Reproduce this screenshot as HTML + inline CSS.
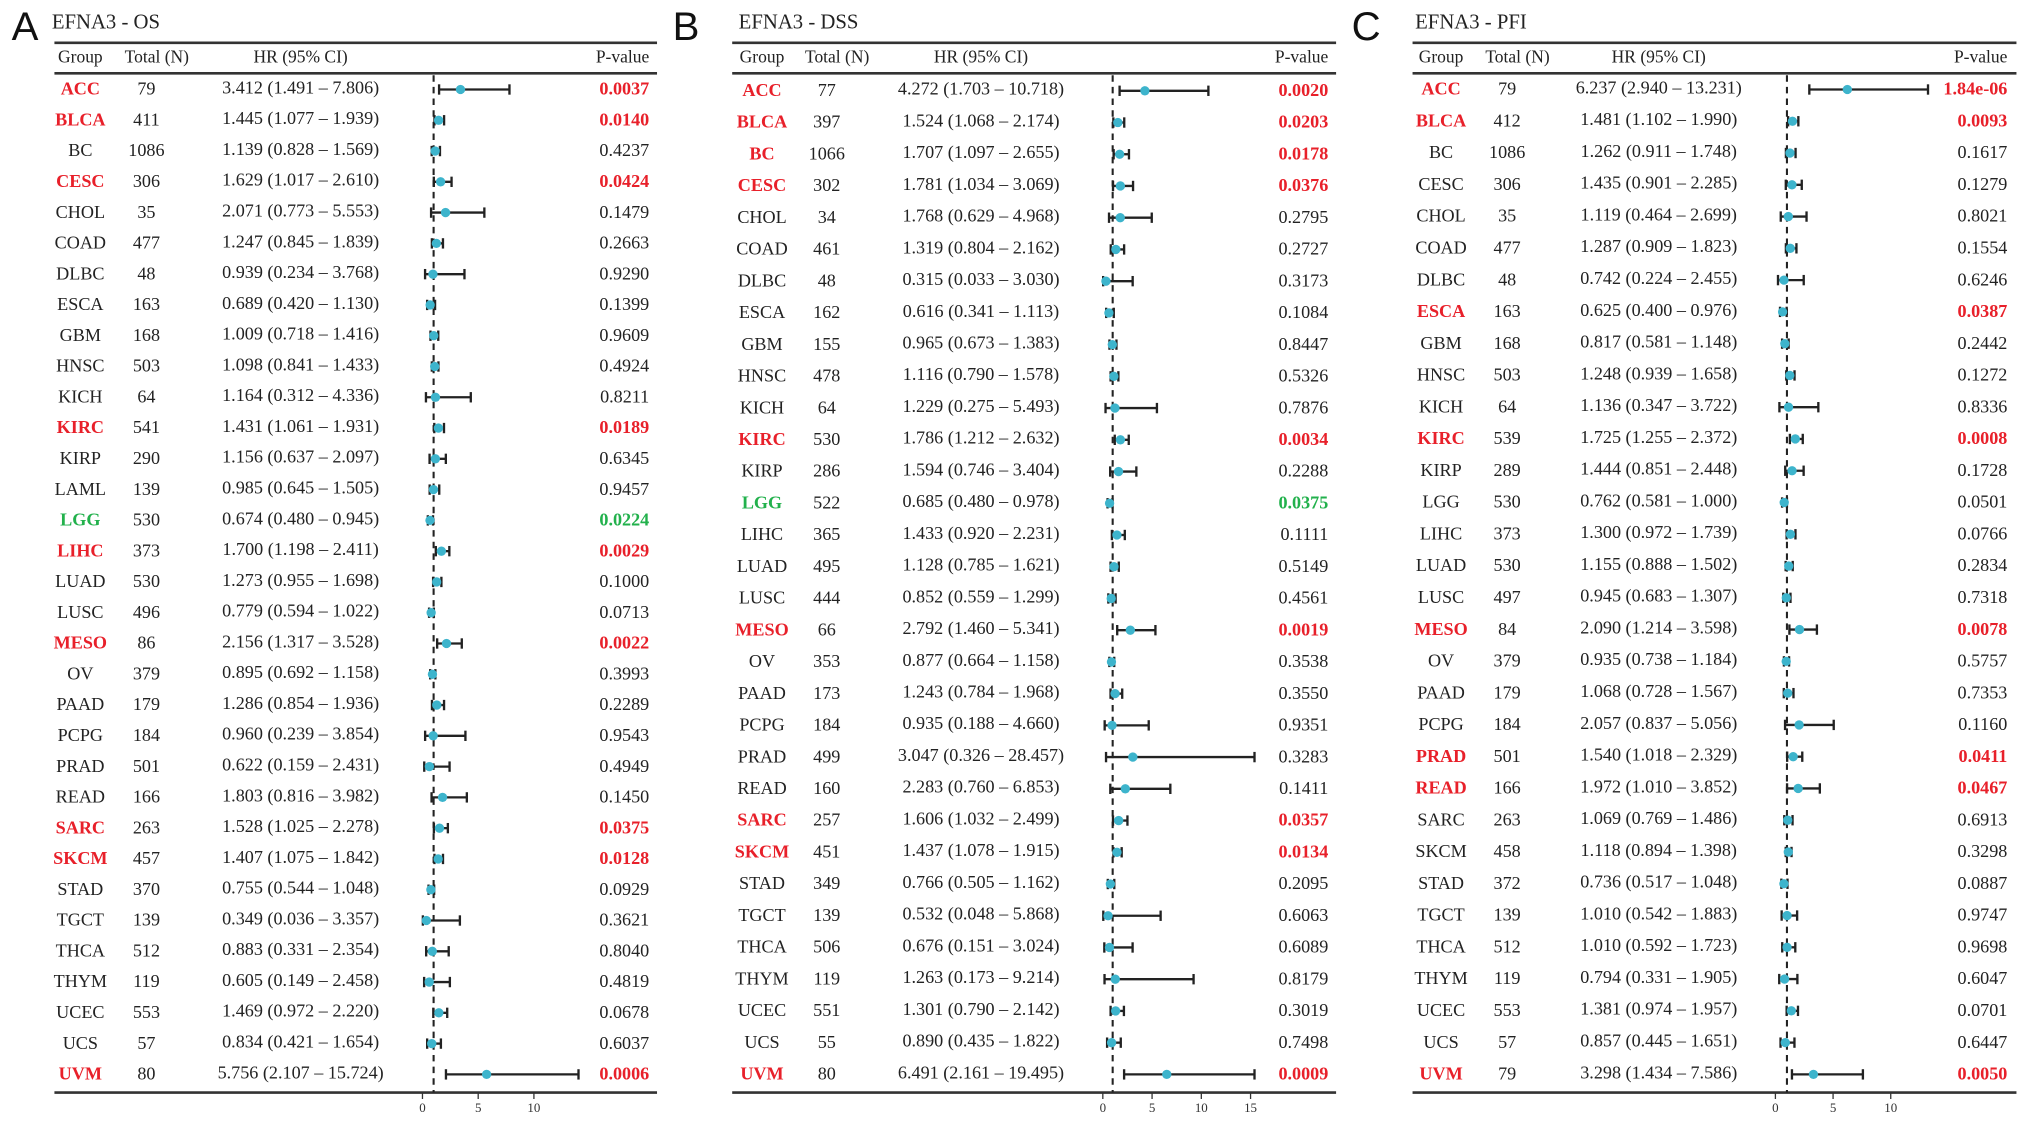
<!DOCTYPE html>
<html><head><meta charset="utf-8"><style>
html,body{margin:0;padding:0;background:#fff;}
svg{display:block;font-family:"Liberation Serif",serif;}
</style></head><body>
<svg id="fig" width="2032" height="1125" viewBox="0 0 1568 868" xmlns="http://www.w3.org/2000/svg"></svg>
<script>
// Panel A - OS
const groupsA=["ACC","BLCA","BC","CESC","CHOL","COAD","DLBC","ESCA","GBM","HNSC","KICH","KIRC","KIRP","LAML","LGG","LIHC","LUAD","LUSC","MESO","OV","PAAD","PCPG","PRAD","READ","SARC","SKCM","STAD","TGCT","THCA","THYM","UCEC","UCS","UVM"];
const nA=[79,411,1086,306,35,477,48,163,168,503,64,541,290,139,530,373,530,496,86,379,179,184,501,166,263,457,370,139,512,119,553,57,80];
const hrA=[3.412,1.445,1.139,1.629,2.071,1.247,0.939,0.689,1.009,1.098,1.164,1.431,1.156,0.985,0.674,1.700,1.273,0.779,2.156,0.895,1.286,0.960,0.622,1.803,1.528,1.407,0.755,0.349,0.883,0.605,1.469,0.834,5.756];
const loA=[1.491,1.077,0.828,1.017,0.773,0.845,0.234,0.420,0.718,0.841,0.312,1.061,0.637,0.645,0.480,1.198,0.955,0.594,1.317,0.692,0.854,0.239,0.159,0.816,1.025,1.075,0.544,0.036,0.331,0.149,0.972,0.421,2.107];
const hiA=[7.806,1.939,1.569,2.610,5.553,1.839,3.768,1.130,1.416,1.433,4.336,1.931,2.097,1.505,0.945,2.411,1.698,1.022,3.528,1.158,1.936,3.854,2.431,3.982,2.278,1.842,1.048,3.357,2.354,2.458,2.220,1.654,15.724];
const pA=["0.0037","0.0140","0.4237","0.0424","0.1479","0.2663","0.9290","0.1399","0.9609","0.4924","0.8211","0.0189","0.6345","0.9457","0.0224","0.0029","0.1000","0.0713","0.0022","0.3993","0.2289","0.9543","0.4949","0.1450","0.0375","0.0128","0.0929","0.3621","0.8040","0.4819","0.0678","0.6037","0.0006"];
const sigA=[1,1,0,1,0,0,0,0,0,0,0,1,0,0,2,1,0,0,1,0,0,0,0,0,1,1,0,0,0,0,0,0,1];
const ticksA=[0,5,10];
// Panel B - DSS
const groupsB=["ACC","BLCA","BC","CESC","CHOL","COAD","DLBC","ESCA","GBM","HNSC","KICH","KIRC","KIRP","LGG","LIHC","LUAD","LUSC","MESO","OV","PAAD","PCPG","PRAD","READ","SARC","SKCM","STAD","TGCT","THCA","THYM","UCEC","UCS","UVM"];
const nB=[77,397,1066,302,34,461,48,162,155,478,64,530,286,522,365,495,444,66,353,173,184,499,160,257,451,349,139,506,119,551,55,80];
const hrB=[4.272,1.524,1.707,1.781,1.768,1.319,0.315,0.616,0.965,1.116,1.229,1.786,1.594,0.685,1.433,1.128,0.852,2.792,0.877,1.243,0.935,3.047,2.283,1.606,1.437,0.766,0.532,0.676,1.263,1.301,0.890,6.491];
const loB=[1.703,1.068,1.097,1.034,0.629,0.804,0.033,0.341,0.673,0.790,0.275,1.212,0.746,0.480,0.920,0.785,0.559,1.460,0.664,0.784,0.188,0.326,0.760,1.032,1.078,0.505,0.048,0.151,0.173,0.790,0.435,2.161];
const hiB=[10.718,2.174,2.655,3.069,4.968,2.162,3.030,1.113,1.383,1.578,5.493,2.632,3.404,0.978,2.231,1.621,1.299,5.341,1.158,1.968,4.660,28.457,6.853,2.499,1.915,1.162,5.868,3.024,9.214,2.142,1.822,19.495];
const pB=["0.0020","0.0203","0.0178","0.0376","0.2795","0.2727","0.3173","0.1084","0.8447","0.5326","0.7876","0.0034","0.2288","0.0375","0.1111","0.5149","0.4561","0.0019","0.3538","0.3550","0.9351","0.3283","0.1411","0.0357","0.0134","0.2095","0.6063","0.6089","0.8179","0.3019","0.7498","0.0009"];
const sigB=[1,1,1,1,0,0,0,0,0,0,0,1,0,2,0,0,0,1,0,0,0,0,0,1,1,0,0,0,0,0,0,1];
const ticksB=[0,5,10,15];
// Panel C - PFI
const groupsC=["ACC","BLCA","BC","CESC","CHOL","COAD","DLBC","ESCA","GBM","HNSC","KICH","KIRC","KIRP","LGG","LIHC","LUAD","LUSC","MESO","OV","PAAD","PCPG","PRAD","READ","SARC","SKCM","STAD","TGCT","THCA","THYM","UCEC","UCS","UVM"];
const nC=[79,412,1086,306,35,477,48,163,168,503,64,539,289,530,373,530,497,84,379,179,184,501,166,263,458,372,139,512,119,553,57,79];
const hrC=[6.237,1.481,1.262,1.435,1.119,1.287,0.742,0.625,0.817,1.248,1.136,1.725,1.444,0.762,1.300,1.155,0.945,2.090,0.935,1.068,2.057,1.540,1.972,1.069,1.118,0.736,1.010,1.010,0.794,1.381,0.857,3.298];
const loC=[2.940,1.102,0.911,0.901,0.464,0.909,0.224,0.400,0.581,0.939,0.347,1.255,0.851,0.581,0.972,0.888,0.683,1.214,0.738,0.728,0.837,1.018,1.010,0.769,0.894,0.517,0.542,0.592,0.331,0.974,0.445,1.434];
const hiC=[13.231,1.990,1.748,2.285,2.699,1.823,2.455,0.976,1.148,1.658,3.722,2.372,2.448,1.000,1.739,1.502,1.307,3.598,1.184,1.567,5.056,2.329,3.852,1.486,1.398,1.048,1.883,1.723,1.905,1.957,1.651,7.586];
const pC=["1.84e-06","0.0093","0.1617","0.1279","0.8021","0.1554","0.6246","0.0387","0.2442","0.1272","0.8336","0.0008","0.1728","0.0501","0.0766","0.2834","0.7318","0.0078","0.5757","0.7353","0.1160","0.0411","0.0467","0.6913","0.3298","0.0887","0.9747","0.9698","0.6047","0.0701","0.6447","0.0050"];
const sigC=[1,1,0,0,0,0,0,1,0,0,0,1,0,0,0,0,0,1,0,0,0,1,1,0,0,0,0,0,0,0,0,1];
const ticksC=[0,5,10];

const NS="http://www.w3.org/2000/svg";
const svg=document.getElementById("fig");
function mk(tag,attrs,parent,txt){const e=document.createElementNS(NS,tag);for(const k in attrs)e.setAttribute(k,attrs[k]);if(txt!==undefined)e.textContent=txt;(parent||svg).appendChild(e);return e;}
const RED="#e8202a",GREEN="#22b14c";

const panels=[
 {letter:"A",title:"EFNA3 - OS",lx:9,tx:40,x0:42,x1:507,gx:62,nx:113,hrx:232,px:501,ax0:326,ppu:8.6,amax:14,first:68,last:828,groups:groupsA,n:nA,hr:hrA,lo:loA,hi:hiA,p:pA,sig:sigA,ticks:ticksA,name:"os"},
 {letter:"B",title:"EFNA3 - DSS",lx:519,tx:570,x0:565,x1:1031,gx:588,nx:638,hrx:757,px:1025,ax0:851,ppu:7.6,amax:15.4,first:69,last:828,groups:groupsB,n:nB,hr:hrB,lo:loB,hi:hiB,p:pB,sig:sigB,ticks:ticksB,name:"dss"},
 {letter:"C",title:"EFNA3 - PFI",lx:1043,tx:1092,x0:1090,x1:1556,gx:1112,nx:1163,hrx:1280,px:1549,ax0:1370,ppu:8.9,amax:13.4,first:68,last:828,groups:groupsC,n:nC,hr:hrC,lo:loC,hi:hiC,p:pC,sig:sigC,ticks:ticksC,name:"pfi"}
];

panels.forEach(P=>{
 const g=mk("g",{});
 
 
 const L=mk("text",{x:P.lx,y:31,"font-family":"Liberation Sans, sans-serif","font-size":31,fill:"#111"},g,P.letter);
 
 
 const T=mk("text",{x:P.tx,y:22,"font-size":16,fill:"#222"},g,P.title);
 
 
 const l1=mk("line",{x1:P.x0,x2:P.x1,y1:33,y2:33,stroke:"#333","stroke-width":2},g);
 
 
 const l2=mk("line",{x1:P.x0,x2:P.x1,y1:56.5,y2:56.5,stroke:"#333","stroke-width":2},g);
 
 
 const l3=mk("line",{x1:P.x0,x2:P.x1,y1:843,y2:843,stroke:"#333","stroke-width":2},g);
 
 
 const hdr=[["Group",P.gx,"middle"],["Total (N)",P.nx+8,"middle"],["HR (95% CI)",P.hrx,"middle"],["P-value",P.px,"end"]];
 hdr.forEach(h=>{const e=mk("text",{x:h[1],y:48,"font-size":13.5,fill:"#222","text-anchor":h[2]},g,h[0]);
  
  });
 const sx=v=>P.ax0+Math.min(v,P.amax)*P.ppu;
 // reference dashed line at HR=1
 const dl=mk("line",{x1:sx(1),x2:sx(1),y1:58,y2:843,stroke:"#222","stroke-width":1.6,"stroke-dasharray":"5,4"},g);
 
 
 const N=P.groups.length, step=(P.last-P.first)/(N-1);
 for(let i=0;i<N;i++){
  const y=P.first+i*step;
  const col=P.sig[i]===1?RED:(P.sig[i]===2?GREEN:"#222");
  const bold=P.sig[i]?"bold":"normal";
  const gt=mk("text",{x:P.gx,y:y+5,"font-size":14,"text-anchor":"middle",fill:col,"font-weight":bold},g,P.groups[i]);
  
  
  const nt=mk("text",{x:P.nx,y:y+5,"font-size":14,"text-anchor":"middle",fill:"#222"},g,String(P.n[i]));
  
  
  const ht=mk("text",{x:P.hrx,y:y+4,"font-size":14,"text-anchor":"middle",fill:"#222"},g,P.hr[i].toFixed(3)+" ("+P.lo[i].toFixed(3)+" – "+P.hi[i].toFixed(3)+")");
  
  
  const pt=mk("text",{x:P.px,y:y+5,"font-size":14,"text-anchor":"end",fill:col,"font-weight":bold},g,P.p[i]);
  
  
  const xa=sx(P.lo[i]),xb=sx(P.hi[i]);
  const w=mk("line",{x1:xa,x2:xb,y1:y+1,y2:y+1,stroke:"#222","stroke-width":1.8},g);
  
  
  [xa,xb].forEach(xx=>{const c=mk("line",{x1:xx,x2:xx,y1:y-3,y2:y+5,stroke:"#222","stroke-width":1.8},g);
   
   });
  const d=mk("circle",{cx:sx(P.hr[i]),cy:y+1,r:3.6,fill:"#3db4cc"},g);
  
  
 }
 P.ticks.forEach(t=>{
  const tl=mk("line",{x1:sx(t),x2:sx(t),y1:843,y2:848,stroke:"#333","stroke-width":1},g);
  
  
  const tt=mk("text",{x:sx(t),y:858,"font-size":10,"text-anchor":"middle",fill:"#333"},g,String(t));
  
  
 });
});
</script>
</body></html>
